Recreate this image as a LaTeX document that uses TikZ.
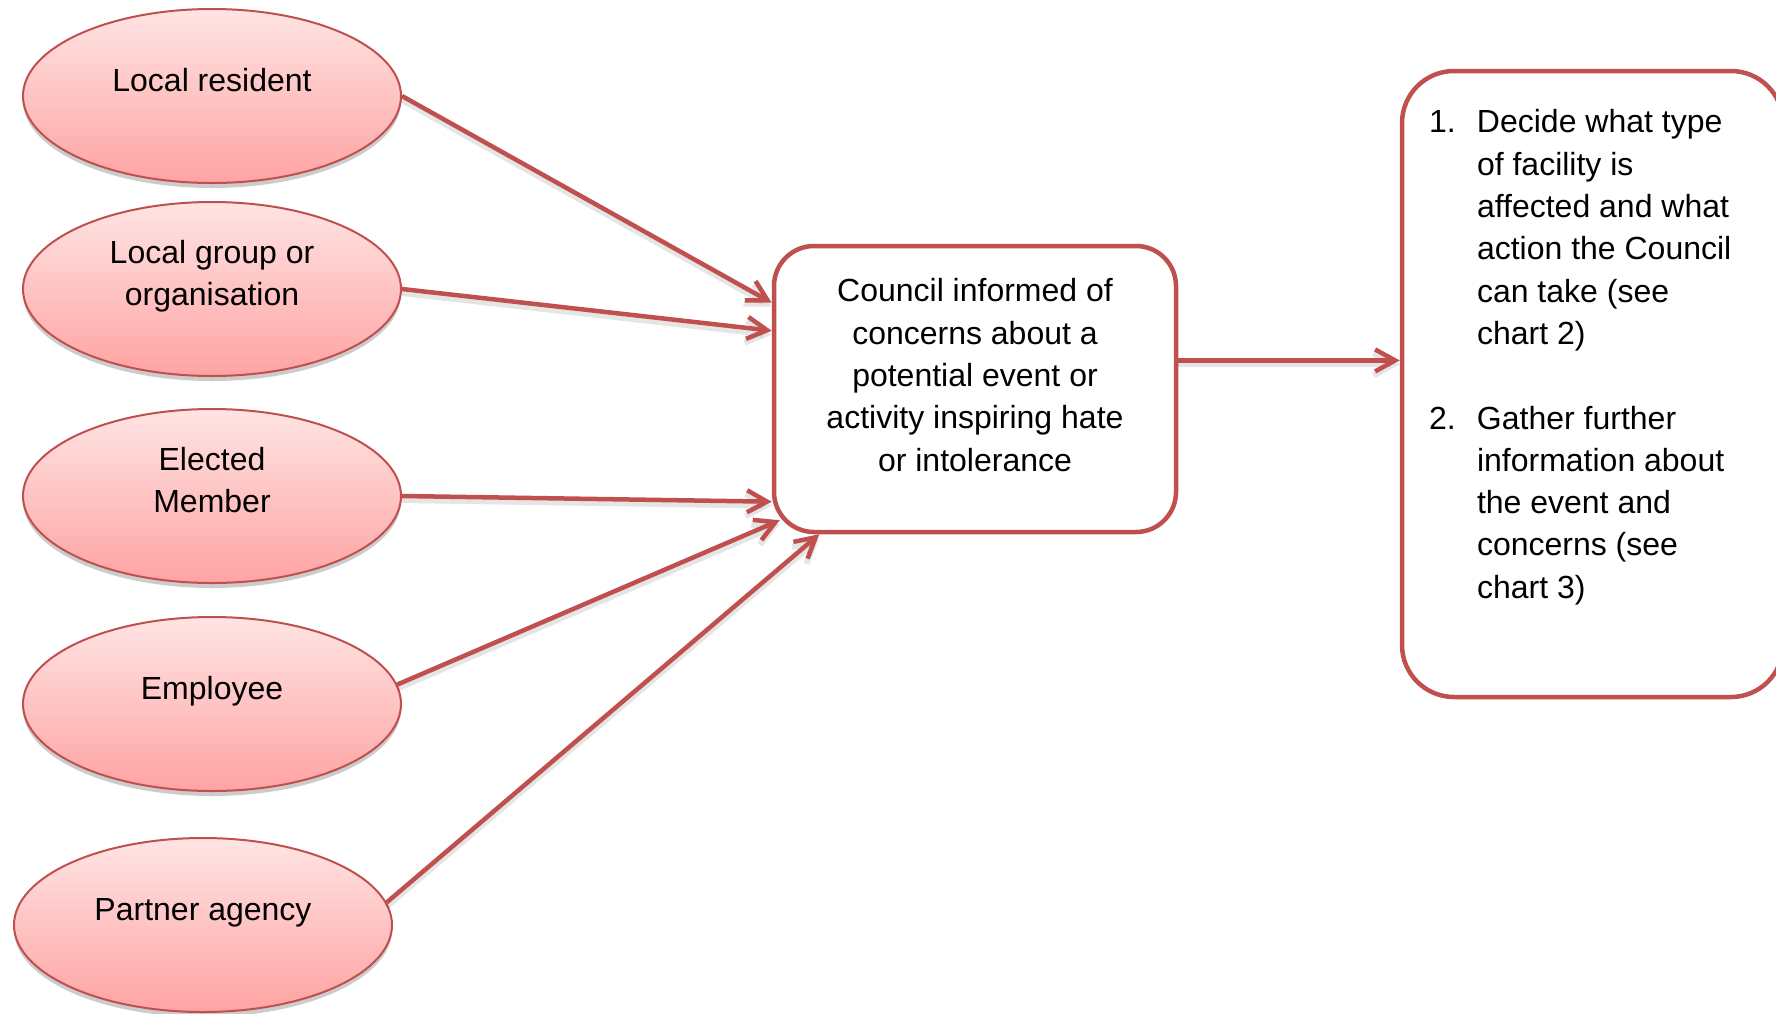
\documentclass[tikz,border=0pt]{standalone}
\usepackage{fontspec}
\setmainfont{Liberation Sans}
\usepackage{tikz}
\usetikzlibrary{calc}
\usetikzlibrary{shapes.geometric}
\usetikzlibrary{arrows.meta}
\usetikzlibrary{shadows}
\definecolor{flowred}{HTML}{C0504D}
\definecolor{pinktop}{RGB}{255,228,228}
\definecolor{pinkbot}{RGB}{255,163,163}
\tikzset{
  src/.style={ellipse, draw=flowred, line width=1pt, top color=pinktop, bottom color=pinkbot,
    minimum width=189pt, minimum height=87pt, inner sep=0pt,
    drop shadow={shadow xshift=0pt, shadow yshift=-2.5pt, opacity=0.2, fill=black}},
  box/.style={rectangle, draw=flowred, line width=2.25pt, fill=white, inner sep=0pt},
  link/.style={draw=flowred, line width=2.25pt, -{Straight Barb[length=10pt,width=11pt]},
    preaction={draw=black, opacity=0.1, line width=3pt, transform canvas={yshift=-2pt}}}
}
\newcommand{\lift}[1]{\raisebox{6.5pt}[\height][\depth]{\begin{tabular}{@{}c@{}}#1\end{tabular}}}
\newcommand{\source}[4]{\node[src] (#1) at ( #2 , #3 ) {\lift{#4}};}
\newcommand{\num}[1]{\leavevmode\llap{\makebox[24pt][l]{#1}}}

\begin{document}
\begin{tikzpicture}[x=0.5pt, y=-0.5pt, font=\fontsize{16}{21.15}\selectfont]
        \useasboundingbox (0,0) rectangle (1776,1013);
        \clip (0,0) rectangle (1776,1013);
        % sources
        \source{res}{212}{96}{Local resident}
        \source{grp}{212}{289}{Local group or\\organisation}
        \source{mem}{212}{496}{Elected\\Member}
        \source{emp}{212}{704}{Employee}
        \source{agy}{203}{925}{Partner agency}
        % council
        \node[box, rounded corners=20pt] (council) at (975,389)
          {\parbox[c][143pt][t]{201pt}{\vspace*{16.4pt}\centering
            Council informed of\\concerns about a\\potential event or\\activity inspiring hate\\or intolerance}};
        % next steps
        \node[box, rounded corners=26pt] (steps) at (1592.5,384)
          {\parbox[c][313pt][t]{190.5pt}{\vspace*{19.4pt}\raggedright\leftskip=37.5pt
            \num{1.}Decide what type\\
            of facility is\\
            affected and what\\
            action the Council\\
            can take (see\\
            chart 2)\\[21.15pt]
            \num{2.}Gather further\\
            information about\\
            the event and\\
            concerns (see\\
            chart 3)}};
        % arrows
        \draw[link] (res.east) -- (council.157);
        \draw[link] (grp.east) -- (council.164);
        \draw[link] (mem.east) -- (council.209);
        \draw[link] (emp.6) -- ($(council.south west)+(8,-14)$);
        \draw[link] (agy.7) -- (council.223);
        \draw[link] (council.8) -- (council.8 -| steps.west);
\end{tikzpicture}
\end{document}
